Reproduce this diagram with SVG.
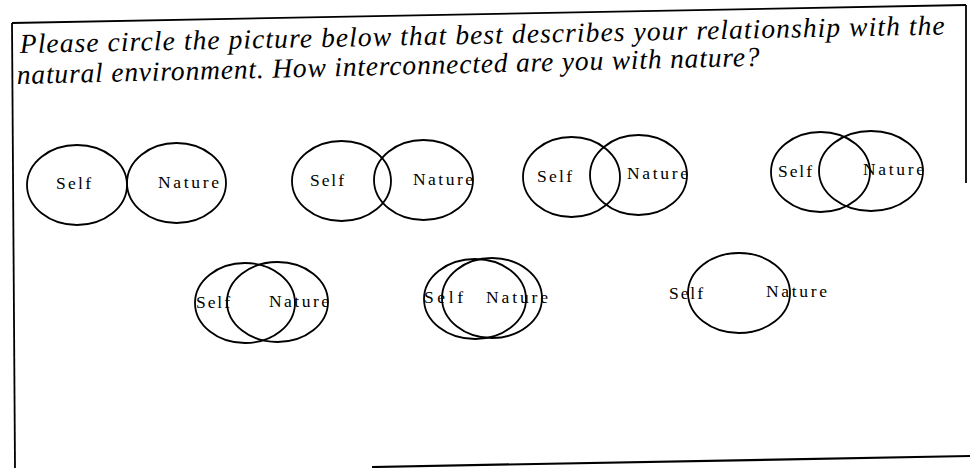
<svg xmlns="http://www.w3.org/2000/svg" width="970" height="468" viewBox="0 0 970 468">
<style>
.ring{fill:none;stroke:#000;stroke-width:1.8}
.frame line{stroke:#000;stroke-width:1.8}
.lbl{font-family:"Liberation Serif","Times New Roman",serif;font-size:17.5px;fill:#000}
.q{font-family:"Liberation Serif","Times New Roman",serif;font-style:italic;font-size:27.5px;fill:#000}
</style>
<rect width="970" height="468" fill="#fff"/>
<g id="frame" class="frame">
<line x1="12" y1="23" x2="966" y2="5"/>
<line x1="12" y1="23" x2="15" y2="468"/>
<line x1="966" y1="5" x2="966" y2="183"/>
<line x1="372" y1="467" x2="970" y2="456" style="stroke-width:2.2"/>
</g>
<g id="question">
<text class="q" x="20" y="53" transform="rotate(-1.15 20 53)" textLength="925" lengthAdjust="spacing">Please circle the picture below that best describes your relationship with the</text>
<text class="q" x="17" y="84" transform="rotate(-1.4 17 84)" textLength="743" lengthAdjust="spacing">natural environment. How interconnected are you with nature?</text>
</g>
<g id="connectors"></g>
<g id="option1">
<ellipse class="ring" cx="77" cy="185" rx="50" ry="40"/>
<ellipse class="ring" cx="176.5" cy="183" rx="49.5" ry="40"/>
<text class="lbl" x="56" y="189" textLength="35" lengthAdjust="spacing">Self</text>
<text class="lbl" x="158" y="188" textLength="61" lengthAdjust="spacing">Nature</text>
</g>
<g id="option2">
<ellipse class="ring" cx="341.5" cy="181" rx="49.5" ry="40"/>
<ellipse class="ring" cx="423.5" cy="180" rx="49.5" ry="40"/>
<text class="lbl" x="310" y="186" textLength="34" lengthAdjust="spacing">Self</text>
<text class="lbl" x="413" y="185" textLength="60" lengthAdjust="spacing">Nature</text>
</g>
<g id="option3">
<ellipse class="ring" cx="571.5" cy="177" rx="48.5" ry="40"/>
<ellipse class="ring" cx="638.5" cy="175" rx="48.5" ry="40"/>
<text class="lbl" x="537" y="182" textLength="35" lengthAdjust="spacing">Self</text>
<text class="lbl" x="627" y="179" textLength="61" lengthAdjust="spacing">Nature</text>
</g>
<g id="option4">
<ellipse class="ring" cx="820.5" cy="172" rx="49.5" ry="40"/>
<ellipse class="ring" cx="871" cy="171" rx="52" ry="40"/>
<text class="lbl" x="778" y="177" textLength="34" lengthAdjust="spacing">Self</text>
<text class="lbl" x="863" y="175" textLength="61" lengthAdjust="spacing">Nature</text>
</g>
<g id="option5">
<ellipse class="ring" cx="245" cy="303" rx="50" ry="40"/>
<ellipse class="ring" cx="277.5" cy="302" rx="50.5" ry="40"/>
<text class="lbl" x="196" y="308" textLength="34" lengthAdjust="spacing">Self</text>
<text class="lbl" x="269" y="307" textLength="60" lengthAdjust="spacing">Nature</text>
</g>
<g id="option6">
<ellipse class="ring" cx="475" cy="299" rx="51" ry="40"/>
<ellipse class="ring" cx="492" cy="298" rx="50" ry="40"/>
<text class="lbl" x="424" y="303" textLength="39" lengthAdjust="spacing">Self</text>
<text class="lbl" x="486" y="303" textLength="62" lengthAdjust="spacing">Nature</text>
</g>
<g id="option7">
<ellipse class="ring" cx="739" cy="293" rx="51" ry="40"/>
<text class="lbl" x="669" y="299" textLength="34" lengthAdjust="spacing">Self</text>
<text class="lbl" x="766" y="297" textLength="61" lengthAdjust="spacing">Nature</text>
</g>
</svg>
